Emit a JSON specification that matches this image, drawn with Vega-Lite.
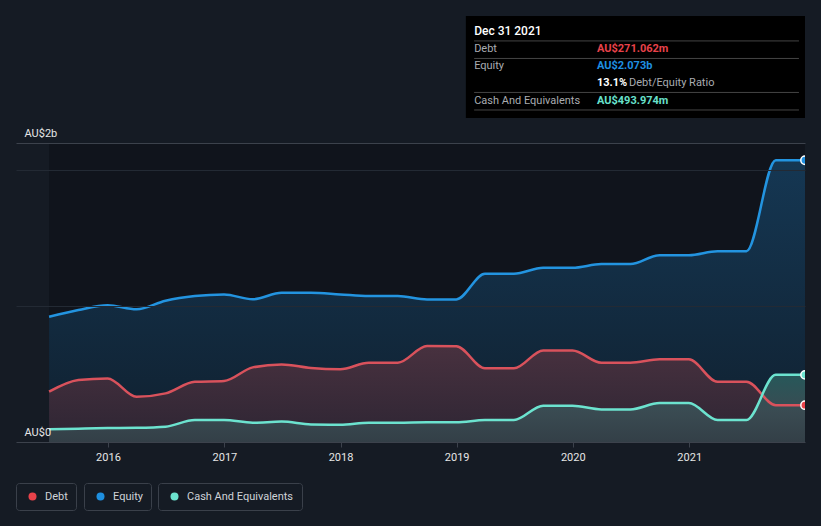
{
  "$schema": "https://vega.github.io/schema/vega-lite/v6.json",
  "width": 789,
  "height": 299,
  "autosize": {"type": "none"},
  "padding": {"left": 16, "top": 143, "right": 16, "bottom": 84},
  "background": "#151b24",
  "config": {"view": {"stroke": null}, "font": "Roboto"},
  "datasets": {
    "main": [
      {"date": "2015-06-30", "debt": 0.370, "equity": 0.921, "cash": 0.093},
      {"date": "2015-09-30", "debt": 0.456, "equity": 0.971, "cash": 0.098},
      {"date": "2015-12-31", "debt": 0.468, "equity": 1.007, "cash": 0.103},
      {"date": "2016-03-31", "debt": 0.333, "equity": 0.976, "cash": 0.105},
      {"date": "2016-06-30", "debt": 0.358, "equity": 1.039, "cash": 0.113},
      {"date": "2016-09-30", "debt": 0.443, "equity": 1.074, "cash": 0.162},
      {"date": "2016-12-31", "debt": 0.449, "equity": 1.086, "cash": 0.162},
      {"date": "2017-03-31", "debt": 0.549, "equity": 1.050, "cash": 0.142},
      {"date": "2017-06-30", "debt": 0.571, "equity": 1.098, "cash": 0.150},
      {"date": "2017-09-30", "debt": 0.544, "equity": 1.098, "cash": 0.129},
      {"date": "2017-12-31", "debt": 0.535, "equity": 1.086, "cash": 0.127},
      {"date": "2018-03-31", "debt": 0.583, "equity": 1.074, "cash": 0.142},
      {"date": "2018-06-30", "debt": 0.583, "equity": 1.074, "cash": 0.142},
      {"date": "2018-09-30", "debt": 0.706, "equity": 1.049, "cash": 0.145},
      {"date": "2018-12-31", "debt": 0.705, "equity": 1.049, "cash": 0.145},
      {"date": "2019-03-31", "debt": 0.542, "equity": 1.238, "cash": 0.162},
      {"date": "2019-06-30", "debt": 0.542, "equity": 1.238, "cash": 0.162},
      {"date": "2019-09-30", "debt": 0.674, "equity": 1.282, "cash": 0.267},
      {"date": "2019-12-31", "debt": 0.674, "equity": 1.282, "cash": 0.267},
      {"date": "2020-03-31", "debt": 0.583, "equity": 1.309, "cash": 0.240},
      {"date": "2020-06-30", "debt": 0.583, "equity": 1.309, "cash": 0.240},
      {"date": "2020-09-30", "debt": 0.608, "equity": 1.375, "cash": 0.287},
      {"date": "2020-12-31", "debt": 0.608, "equity": 1.375, "cash": 0.287},
      {"date": "2021-03-31", "debt": 0.443, "equity": 1.404, "cash": 0.162},
      {"date": "2021-06-30", "debt": 0.443, "equity": 1.404, "cash": 0.162},
      {"date": "2021-09-30", "debt": 0.271, "equity": 2.073, "cash": 0.494},
      {"date": "2021-12-31", "debt": 0.271062, "equity": 2.073, "cash": 0.493974}
    ],
    "span": [{"start": "2015-06-30", "end": "2021-12-31"}]
  },
  "layer": [
    {
      "data": {"name": "span"},
      "mark": {"type": "rect", "color": "#10141c"},
      "encoding": {
        "x": {
          "field": "start", "type": "temporal",
          "scale": {"type": "utc", "domain": [{"year": 2015, "month": 3, "date": 18, "utc": true}, {"year": 2021, "month": 12, "date": 31, "utc": true}]},
          "axis": {
            "title": null, "format": "%Y", "tickCount": {"interval": "year", "step": 1},
            "grid": false, "domain": false, "tickColor": "#3c424c", "tickSize": 5,
            "labelColor": "#e6e6e6", "labelFontSize": 11, "labelPadding": 4, "labelFlush": false
          }
        },
        "x2": {"field": "end"},
        "y": {
          "datum": 0, "type": "quantitative",
          "scale": {"domain": [0, 2.2], "nice": false},
          "axis": {
            "title": null, "values": [0, 1, 2, 2.2], "grid": true, "ticks": false, "tickSize": 0, "domain": false,
            "labelExpr": "datum.value == 0 ? 'AU$0' : (datum.value == 2.2 ? 'AU$2b' : '')",
            "labelAlign": "left", "labelBaseline": "alphabetic", "labelPadding": -8, "labelOffset": -7,
            "labelColor": "#e6e6e6", "labelFontSize": 11,
            "gridColor": {"condition": {"test": "datum.value == 1 || datum.value == 2", "value": "#232a34"}, "value": "#3c424c"},
            "zindex": 1
          }
        },
        "y2": {"datum": 2.2}
      }
    },
    {
      "data": {"name": "main"},
      "mark": {"type": "area", "interpolate": "monotone", "color": {"gradient": "linear", "x1": 0, "y1": 0, "x2": 0, "y2": 1, "stops": [{"offset": 0, "color": "#153753"}, {"offset": 1, "color": "#10202f"}]}},
      "encoding": {
        "x": {"field": "date", "type": "temporal", "axis": {"title": null}},
        "y": {"field": "equity", "type": "quantitative", "axis": {"title": null}}
      }
    },
    {
      "data": {"name": "main"},
      "mark": {"type": "area", "interpolate": "monotone", "color": {"gradient": "linear", "x1": 0, "y1": 0, "x2": 0, "y2": 1, "stops": [{"offset": 0, "color": "#48313f"}, {"offset": 1, "color": "#2d2533"}]}},
      "encoding": {
        "x": {"field": "date", "type": "temporal", "axis": {"title": null}},
        "y": {"field": "debt", "type": "quantitative", "axis": {"title": null}}
      }
    },
    {
      "data": {"name": "main"},
      "mark": {"type": "area", "interpolate": "monotone", "color": {"gradient": "linear", "x1": 0, "y1": 0, "x2": 0, "y2": 1, "stops": [{"offset": 0, "color": "#27585a"}, {"offset": 0.55, "color": "#3a4b52"}, {"offset": 1, "color": "#333f47"}]}},
      "encoding": {
        "x": {"field": "date", "type": "temporal", "axis": {"title": null}},
        "y": {"field": "cash", "type": "quantitative", "axis": {"title": null}}
      }
    },
    {
      "data": {"name": "main"},
      "mark": {"type": "line", "interpolate": "monotone", "color": "#2394e0", "strokeWidth": 2.5},
      "encoding": {
        "x": {"field": "date", "type": "temporal", "axis": {"title": null}},
        "y": {"field": "equity", "type": "quantitative", "axis": {"title": null}}
      }
    },
    {
      "data": {"name": "main"},
      "mark": {"type": "line", "interpolate": "monotone", "color": "#d9525c", "strokeWidth": 2.5},
      "encoding": {
        "x": {"field": "date", "type": "temporal", "axis": {"title": null}},
        "y": {"field": "debt", "type": "quantitative", "axis": {"title": null}}
      }
    },
    {
      "data": {"name": "main"},
      "mark": {"type": "line", "interpolate": "monotone", "color": "#6ce3cf", "strokeWidth": 2.5},
      "encoding": {
        "x": {"field": "date", "type": "temporal", "axis": {"title": null}},
        "y": {"field": "cash", "type": "quantitative", "axis": {"title": null}}
      }
    },
    {
      "data": {"name": "main"},
      "transform": [{"window": [{"op": "row_number", "as": "r"}], "sort": [{"field": "date", "order": "descending"}]}, {"filter": "datum.r == 1"}],
      "mark": {"type": "point", "filled": true, "size": 70, "stroke": "white", "strokeWidth": 1.5, "opacity": 1, "clip": true},
      "encoding": {
        "x": {"field": "date", "type": "temporal", "axis": {"title": null}},
        "y": {"field": "debt", "type": "quantitative", "axis": {"title": null}},
        "color": {
          "datum": "Debt", "type": "nominal",
          "scale": {"domain": ["Debt"], "range": ["#e8424a"]},
          "legend": {"orient": "none", "legendX": 0, "legendY": 340, "title": null, "padding": 8, "strokeColor": "#3a404a", "cornerRadius": 3, "symbolType": "circle", "symbolSize": 64, "symbolStrokeWidth": 0, "symbolOffset": 3, "labelColor": "#cfd3d8", "labelFontSize": 11, "labelOffset": 7}
        }
      }
    },
    {
      "data": {"name": "main"},
      "transform": [{"window": [{"op": "row_number", "as": "r"}], "sort": [{"field": "date", "order": "descending"}]}, {"filter": "datum.r == 1"}],
      "mark": {"type": "point", "filled": true, "size": 70, "stroke": "white", "strokeWidth": 1.5, "opacity": 1, "clip": true},
      "encoding": {
        "x": {"field": "date", "type": "temporal", "axis": {"title": null}},
        "y": {"field": "equity", "type": "quantitative", "axis": {"title": null}},
        "fill": {
          "datum": "Equity", "type": "nominal",
          "scale": {"domain": ["Equity"], "range": ["#1e8fe0"]},
          "legend": {"orient": "none", "legendX": 68, "legendY": 340, "title": null, "padding": 8, "strokeColor": "#3a404a", "cornerRadius": 3, "symbolType": "circle", "symbolSize": 64, "symbolStrokeWidth": 0, "symbolOffset": 3, "labelColor": "#cfd3d8", "labelFontSize": 11, "labelOffset": 7}
        }
      }
    },
    {
      "data": {"name": "main"},
      "transform": [{"window": [{"op": "row_number", "as": "r"}], "sort": [{"field": "date", "order": "descending"}]}, {"filter": "datum.r == 1"}],
      "mark": {"type": "point", "filled": true, "size": 70, "color": "#6ce3cf", "stroke": "white", "strokeWidth": 1.5, "opacity": 1, "clip": true},
      "encoding": {
        "x": {"field": "date", "type": "temporal", "axis": {"title": null}},
        "y": {"field": "cash", "type": "quantitative", "axis": {"title": null}},
        "shape": {
          "datum": "Cash And Equivalents", "type": "nominal",
          "scale": {"domain": ["Cash And Equivalents"], "range": ["circle"]},
          "legend": {"orient": "none", "legendX": 142, "legendY": 340, "title": null, "padding": 8, "strokeColor": "#3a404a", "cornerRadius": 3, "symbolType": "circle", "symbolSize": 64, "symbolStrokeWidth": 0, "symbolFillColor": "#68e0cc", "symbolOffset": 3, "labelColor": "#cfd3d8", "labelFontSize": 11, "labelOffset": 7}
        }
      }
    },
    {
      "data": {"values": [{"t": "box"}]},
      "mark": {"type": "rect", "color": "#000000"},
      "encoding": {
        "x": {"datum": {"year": 2019, "month": 1, "date": 30, "utc": true}, "type": "temporal", "axis": {"title": null}},
        "x2": {"datum": {"year": 2021, "month": 12, "date": 31, "utc": true}},
        "y": {"datum": 3.135, "type": "quantitative", "axis": {"title": null}},
        "y2": {"datum": 2.384}
      }
    },
    {
      "data": {"values": [{"v": 2.951}, {"v": 2.822}, {"v": 2.572}, {"v": 2.443}]},
      "mark": {"type": "rule", "color": "#444444", "strokeWidth": 1},
      "encoding": {
        "x": {"datum": {"year": 2019, "month": 2, "date": 25, "utc": true}, "type": "temporal", "axis": {"title": null}},
        "x2": {"datum": {"year": 2021, "month": 12, "date": 12, "utc": true}},
        "y": {"field": "v", "type": "quantitative", "axis": {"title": null}}
      }
    },
    {
      "data": {"values": [{"t": "Dec 31 2021"}]},
      "mark": {"type": "text", "align": "left", "baseline": "middle", "color": "#ffffff", "fontSize": 12, "fontWeight": 500},
      "encoding": {
        "x": {"datum": {"year": 2019, "month": 2, "date": 25, "utc": true}, "type": "temporal", "axis": {"title": null}},
        "y": {"datum": 3.024, "type": "quantitative", "axis": {"title": null}},
        "text": {"field": "t"}
      }
    },
    {
      "data": {"values": [{"t": "Debt"}]},
      "mark": {"type": "text", "align": "left", "baseline": "middle", "color": "#a9acb0", "fontSize": 11},
      "encoding": {
        "x": {"datum": {"year": 2019, "month": 2, "date": 25, "utc": true}, "type": "temporal", "axis": {"title": null}},
        "y": {"datum": 2.888, "type": "quantitative", "axis": {"title": null}},
        "text": {"field": "t"}
      }
    },
    {
      "data": {"values": [{"t": "Equity"}]},
      "mark": {"type": "text", "align": "left", "baseline": "middle", "color": "#a9acb0", "fontSize": 11},
      "encoding": {
        "x": {"datum": {"year": 2019, "month": 2, "date": 25, "utc": true}, "type": "temporal", "axis": {"title": null}},
        "y": {"datum": 2.763, "type": "quantitative", "axis": {"title": null}},
        "text": {"field": "t"}
      }
    },
    {
      "data": {"values": [{"t": "Cash And Equivalents"}]},
      "mark": {"type": "text", "align": "left", "baseline": "middle", "color": "#a9acb0", "fontSize": 11},
      "encoding": {
        "x": {"datum": {"year": 2019, "month": 2, "date": 25, "utc": true}, "type": "temporal", "axis": {"title": null}},
        "y": {"datum": 2.509, "type": "quantitative", "axis": {"title": null}},
        "text": {"field": "t"}
      }
    },
    {
      "data": {"values": [{"t": "AU$271.062m"}]},
      "mark": {"type": "text", "align": "left", "baseline": "middle", "color": "#e8424a", "fontSize": 11, "fontWeight": "bold"},
      "encoding": {
        "x": {"datum": {"year": 2020, "month": 3, "date": 17, "utc": true}, "type": "temporal", "axis": {"title": null}},
        "y": {"datum": 2.888, "type": "quantitative", "axis": {"title": null}},
        "text": {"field": "t"}
      }
    },
    {
      "data": {"values": [{"t": "AU$2.073b"}]},
      "mark": {"type": "text", "align": "left", "baseline": "middle", "color": "#1e8fe0", "fontSize": 11, "fontWeight": "bold"},
      "encoding": {
        "x": {"datum": {"year": 2020, "month": 3, "date": 17, "utc": true}, "type": "temporal", "axis": {"title": null}},
        "y": {"datum": 2.763, "type": "quantitative", "axis": {"title": null}},
        "text": {"field": "t"}
      }
    },
    {
      "data": {"values": [{"t": "13.1%"}]},
      "mark": {"type": "text", "align": "left", "baseline": "middle", "color": "#ffffff", "fontSize": 11, "fontWeight": "bold"},
      "encoding": {
        "x": {"datum": {"year": 2020, "month": 3, "date": 17, "utc": true}, "type": "temporal", "axis": {"title": null}},
        "y": {"datum": 2.642, "type": "quantitative", "axis": {"title": null}},
        "text": {"field": "t"}
      }
    },
    {
      "data": {"values": [{"t": "Debt/Equity Ratio"}]},
      "mark": {"type": "text", "align": "left", "baseline": "middle", "color": "#a9acb0", "fontSize": 11},
      "encoding": {
        "x": {"datum": {"year": 2020, "month": 6, "date": 26, "utc": true}, "type": "temporal", "axis": {"title": null}},
        "y": {"datum": 2.642, "type": "quantitative", "axis": {"title": null}},
        "text": {"field": "t"}
      }
    },
    {
      "data": {"values": [{"t": "AU$493.974m"}]},
      "mark": {"type": "text", "align": "left", "baseline": "middle", "color": "#68e0cc", "fontSize": 11, "fontWeight": "bold"},
      "encoding": {
        "x": {"datum": {"year": 2020, "month": 3, "date": 17, "utc": true}, "type": "temporal", "axis": {"title": null}},
        "y": {"datum": 2.509, "type": "quantitative", "axis": {"title": null}},
        "text": {"field": "t"}
      }
    }
  ]
}
